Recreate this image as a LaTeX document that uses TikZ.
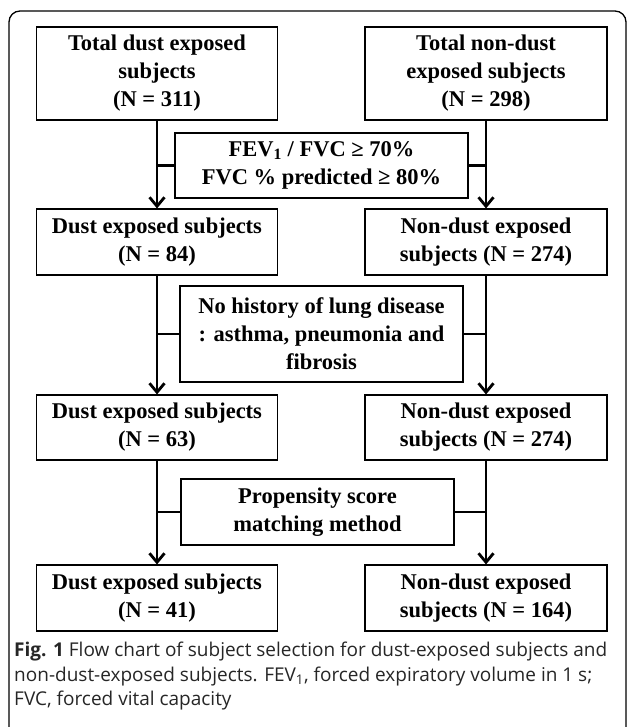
\documentclass[tikz,border=0pt]{standalone}
\usepackage{fontspec}
\setmainfont{Liberation Serif}
\newfontfamily\capfont{Open Sans}
\usetikzlibrary{arrows.meta}

\begin{document}
\begin{tikzpicture}[x=1pt,y=-1pt,
	box/.style={draw,line width=1.1pt,align=center,inner sep=0,font=\fontsize{22.5}{28}\selectfont\bfseries},
	flow/.style={line width=2.8pt,-{Straight Barb[length=9pt,width=15pt,line width=2.8pt]}},
	link/.style={line width=2.8pt}]
	\useasboundingbox (0,0) rectangle (627,727);
	\clip (0,0) rectangle (627,727);
	\draw[line width=1.3pt,rounded corners=11pt] (9,740) -- (9,11) -- (626,11) -- (626,740);
	\node[box,minimum width=241pt,minimum height=93pt] (1) at (157,73.5) {Total dust exposed\\subjects\\(N = 311)};
	\node[box,minimum width=242pt,minimum height=93pt] (2) at (486,73.5) {Total non-dust\\exposed subjects\\(N = 298)};
	\node[box,minimum width=293pt,minimum height=65pt] (3) at (321.5,165.5) {FEV\textsubscript{1} / FVC ≥ 70\%\\FVC \% predicted ≥ 80\%};
	\node[box,minimum width=241pt,minimum height=66pt] (4) at (157,242) {Dust exposed subjects\\(N = 84)};
	\node[box,minimum width=242pt,minimum height=66pt] (5) at (486,242) {Non-dust exposed\\subjects (N = 274)};
	\node[box,minimum width=283pt,minimum height=96pt] (6) at (321.5,334) {No history of lung disease\\: asthma, pneumonia and\\fibrosis};
	\node[box,minimum width=241pt,minimum height=65pt] (7) at (157,427.5) {Dust exposed subjects\\(N = 63)};
	\node[box,minimum width=242pt,minimum height=65pt] (8) at (486,427.5) {Non-dust exposed\\subjects (N = 274)};
	\node[box,minimum width=273pt,minimum height=66pt] (9) at (317.5,512) {Propensity score\\matching method};
	\node[box,minimum width=241pt,minimum height=66pt] (10) at (157,598) {Dust exposed subjects\\(N = 41)};
	\node[box,minimum width=242pt,minimum height=66pt] (11) at (486,598) {Non-dust exposed\\subjects (N = 164)};
	\draw[flow] (1) -- (4);
	\draw[flow] (2) -- (5);
	\draw[flow] (4) -- (7);
	\draw[flow] (5) -- (8);
	\draw[flow] (7) -- (10);
	\draw[flow] (8) -- (11);
	\draw[link] (3.west) -- (3.west -| 1);
	\draw[link] (3.east) -- (3.east -| 2);
	\draw[link] (6.west) -- (6.west -| 4);
	\draw[link] (6.east) -- (6.east -| 5);
	\draw[link] (9.west) -- (9.west -| 7);
	\draw[link] (9.east) -- (9.east -| 8);
	\node[anchor=north west,inner sep=0,align=left,text=black!85,font=\capfont\fontsize{19}{24.5}\selectfont] (cap) at (14,642) {\textbf{Fig. 1} Flow chart of subject selection for dust-exposed subjects and\\non-dust-exposed subjects. FEV\textsubscript{1}, forced expiratory volume in 1 s;\\FVC, forced vital capacity};
\end{tikzpicture}
\end{document}
